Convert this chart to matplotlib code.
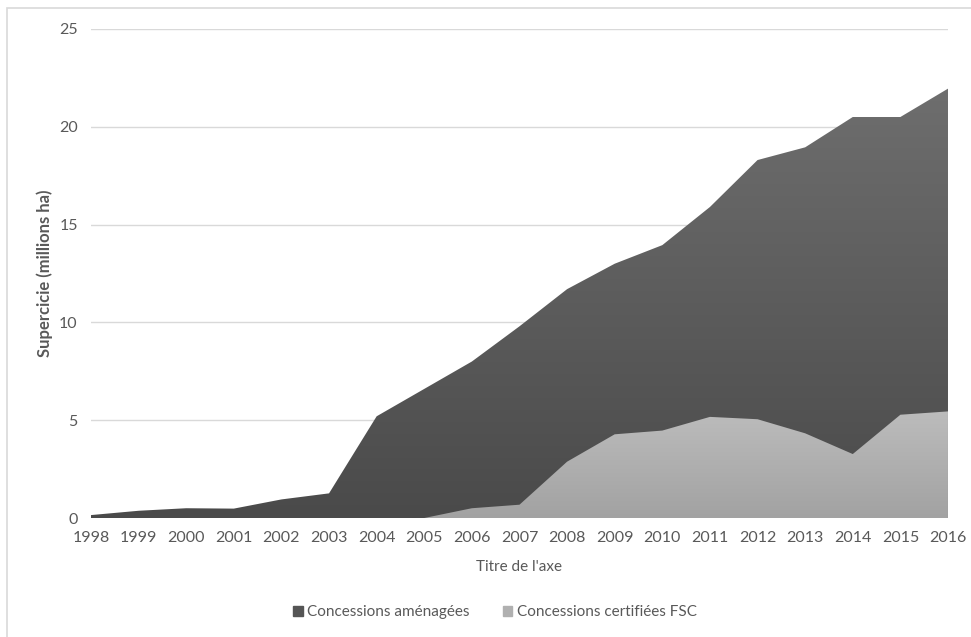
import numpy as np
import matplotlib
matplotlib.use("Agg")
import matplotlib.pyplot as plt
from matplotlib.patches import Rectangle

# Données (millions ha)
annees = list(range(1998, 2017))
amenagees = [0.15, 0.37, 0.5, 0.48, 0.95, 1.26, 5.2, 6.6, 8.0, 9.8, 11.7,
             13.0, 13.95, 15.9, 18.3, 18.95, 20.5, 20.5, 21.95]
certifiees = [0, 0, 0, 0, 0, 0, 0, 0, 0.5, 0.68, 2.88,
              4.28, 4.47, 5.17, 5.05, 4.33, 3.27, 5.28, 5.45]

plt.rcParams['font.family'] = ['Lato', 'DejaVu Sans']
gris_txt = '#595959'

fig = plt.figure(figsize=(9.71, 6.37), dpi=100)
ax = fig.add_axes([0.0937, 0.1868, 0.8826, 0.7677])

# Cadre autour du graphique
fig.patches.append(Rectangle((0.007, -0.01), 1.1, 0.998, transform=fig.transFigure,
                             fill=False, edgecolor='#d9d9d9', linewidth=1.2))


def aire_degrade(x, y, haut, bas, zorder):
    # surface avec un dégradé vertical
    poly = ax.fill_between(x, 0, y, color='none', zorder=zorder)
    cmap = matplotlib.colors.LinearSegmentedColormap.from_list('g', [bas, haut])
    grad = np.linspace(0, 1, 256).reshape(-1, 1)
    im = ax.imshow(grad, cmap=cmap, aspect='auto', origin='lower',
                   extent=[x[0], x[-1], 0, max(y)], zorder=zorder)
    path = poly.get_paths()[0]
    im.set_clip_path(path, transform=ax.transData)


aire_degrade(annees, amenagees, '#6e6e6e', '#4a4a4a', 2)
aire_degrade(annees, certifiees, '#bcbcbc', '#a2a2a2', 3)

ax.set_xlim(1998, 2016)
ax.set_ylim(0, 25)
ax.set_yticks([0, 5, 10, 15, 20, 25])
ax.set_xticks(annees)
ax.set_xticklabels([str(a) for a in annees])
ax.grid(axis='y', color='#d9d9d9', linewidth=1)
ax.set_axisbelow(True)
for s in ax.spines.values():
    s.set_visible(False)
ax.tick_params(length=0, labelsize=11.5, labelcolor=gris_txt)
ax.tick_params(axis='y', pad=9.5)
ax.tick_params(axis='x', pad=9)

ax.set_ylabel('Supercicie (millions ha)', fontsize=12, fontweight='bold',
              color=gris_txt, labelpad=4)
ax.set_xlabel("Titre de l'axe", fontsize=11, color=gris_txt, labelpad=11)

# Légende
h1 = Rectangle((0, 0), 1, 1, color='#555555')
h2 = Rectangle((0, 0), 1, 1, color='#b0b0b0')
fig.legend([h1, h2], ['Concessions aménagées', 'Concessions certifiées FSC'],
           loc='center', bbox_to_anchor=(0.51, 0.039), ncol=2, frameon=False,
           fontsize=11, labelcolor=gris_txt, handlelength=0.6, handleheight=0.6,
           handletextpad=0.3, columnspacing=2.2)

fig.savefig('out.png', dpi=100)
